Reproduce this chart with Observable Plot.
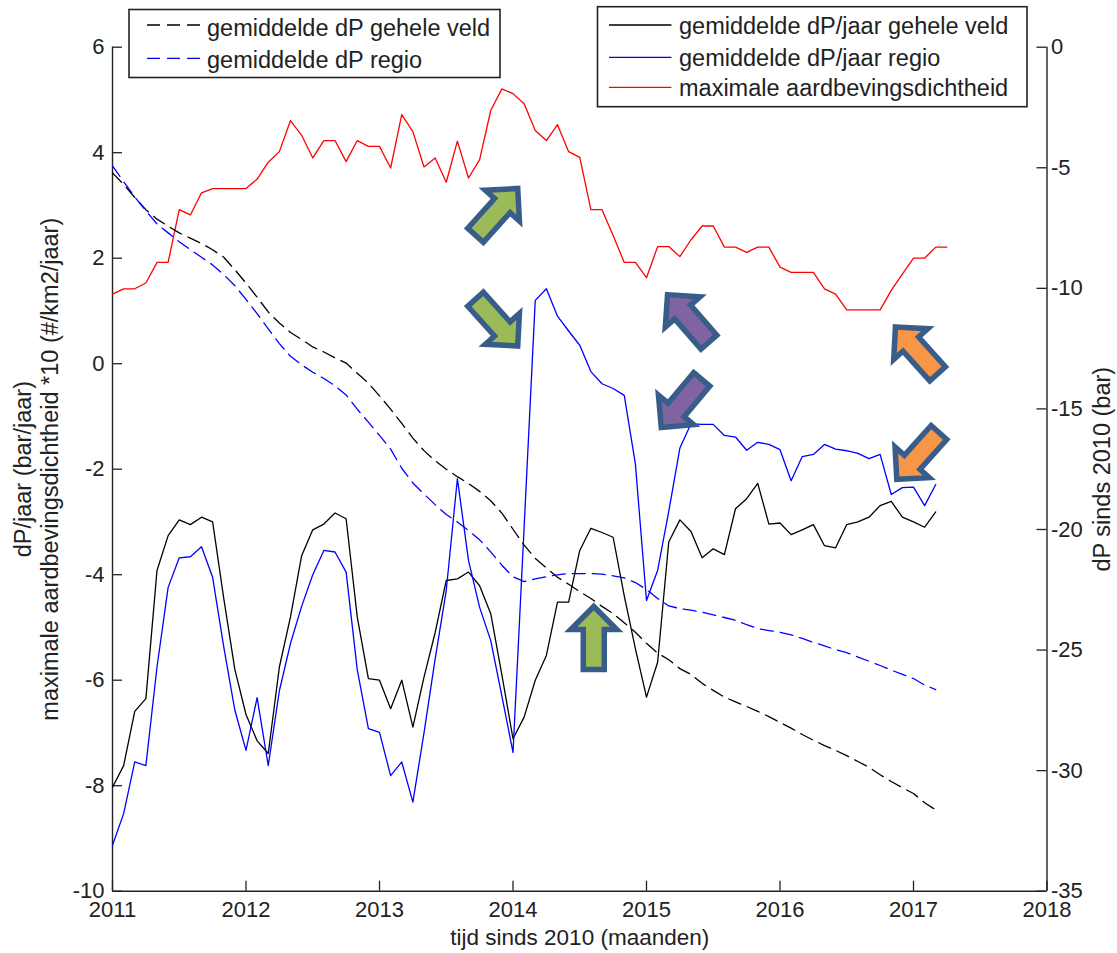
<!DOCTYPE html>
<html>
<head>
<meta charset="utf-8">
<script src="https://cdn.jsdelivr.net/npm/d3@7"></script>
<script src="https://cdn.jsdelivr.net/npm/@observablehq/plot@0.6"></script>
<style>
  html, body { margin: 0; padding: 0; background: #ffffff; }
  #chart { width: 1117px; height: 953px; }
  svg { font-family: "Liberation Sans", Arial, sans-serif; }
</style>
</head>
<body>
<div id="chart"></div>
<script>
// ---------------- data (monthly, starting January 2011) ----------------
const startYear = 2011;

// gemiddelde dP/jaar gehele veld (left axis, bar/jaar)
const fieldRate = [
  -8.03, -7.62, -6.59, -6.35, -3.92, -3.26, -2.96, -3.05, -2.91, -3.00,
  -4.45, -5.80, -6.65, -7.15, -7.39, -5.75, -4.80, -3.64, -3.15, -3.04,
  -2.83, -2.94, -4.80, -5.97, -6.00, -6.54, -6.00, -6.89, -5.94, -5.10,
  -4.11, -4.08, -3.95, -4.21, -4.74, -5.90, -7.11, -6.70, -6.00, -5.53,
  -4.52, -4.52, -3.54, -3.12, -3.20, -3.29, -4.40, -5.40, -6.32, -5.66,
  -3.38, -2.96, -3.18, -3.68, -3.51, -3.62, -2.75, -2.56, -2.27, -3.04,
  -3.02, -3.24, -3.15, -3.05, -3.45, -3.49, -3.05, -3.00, -2.91, -2.69,
  -2.61, -2.91, -3.00, -3.10, -2.81
];

// gemiddelde dP/jaar regio (left axis, bar/jaar)
const regionRate = [
  -9.13, -8.53, -7.55, -7.62, -5.75, -4.24, -3.68, -3.66, -3.47, -4.05,
  -5.37, -6.57, -7.33, -6.33, -7.62, -6.20, -5.30, -4.60, -4.00, -3.54,
  -3.57, -3.95, -5.80, -6.92, -6.99, -7.81, -7.55, -8.31, -7.00, -5.60,
  -4.30, -2.18, -3.73, -4.62, -5.25, -6.30, -7.37, -3.10,  1.20,  1.42,
   0.90,  0.62,  0.35, -0.15, -0.38, -0.47, -0.60, -1.90, -4.49, -3.92,
  -2.80, -1.60, -1.14, -1.15, -1.15, -1.36, -1.39, -1.64, -1.49, -1.53,
  -1.63, -2.22, -1.76, -1.72, -1.53, -1.62, -1.65, -1.70, -1.80, -1.72,
  -2.48, -2.35, -2.34, -2.69, -2.29
];

// maximale aardbevingsdichtheid *10 (left axis)
const quakeDensity = [
  1.32, 1.42, 1.42, 1.53, 1.92, 1.92, 2.92, 2.82, 3.24, 3.32,
  3.32, 3.32, 3.32, 3.50, 3.82, 4.02, 4.61, 4.33, 3.90, 4.23,
  4.23, 3.83, 4.23, 4.12, 4.12, 3.71, 4.72, 4.40, 3.73, 3.90,
  3.44, 4.22, 3.52, 3.87, 4.80, 5.21, 5.12, 4.93, 4.42, 4.23,
  4.53, 4.02, 3.91, 2.92, 2.92, 2.43, 1.92, 1.92, 1.63, 2.22,
  2.22, 2.03, 2.35, 2.61, 2.61, 2.21, 2.21, 2.11, 2.21, 2.21,
  1.83, 1.73, 1.73, 1.73, 1.42, 1.32, 1.02, 1.02, 1.02, 1.02,
  1.39, 1.70, 2.00, 2.00, 2.21, 2.21
];

// gemiddelde dP gehele veld (right axis, bar since 2010)
const fieldCum = [
  -5.21, -5.69, -6.23, -6.74, -7.13, -7.42, -7.70, -7.92, -8.14, -8.40,
  -8.71, -9.23, -9.78, -10.37, -10.98, -11.44, -11.83, -12.12, -12.43, -12.64,
  -12.88, -13.10, -13.52, -13.93, -14.46, -15.01, -15.60, -16.21, -16.73, -17.15,
  -17.50, -17.81, -18.09, -18.42, -18.81, -19.32, -19.99, -20.65, -21.20, -21.59,
  -21.98, -22.27, -22.58, -22.86, -23.19, -23.49, -23.87, -24.26, -24.72, -25.13,
  -25.40, -25.77, -26.01, -26.38, -26.67, -26.95, -27.15, -27.34, -27.54, -27.76,
  -28.00, -28.24, -28.50, -28.74, -28.96, -29.16, -29.38, -29.62, -29.86, -30.17,
  -30.45, -30.71, -30.95, -31.33, -31.63
];

// gemiddelde dP regio (right axis, bar since 2010)
const regionCum = [
  -4.92, -5.58, -6.21, -6.78, -7.33, -7.70, -8.07, -8.40, -8.71, -9.03,
  -9.43, -9.89, -10.46, -11.05, -11.68, -12.29, -12.82, -13.17, -13.48, -13.74,
  -14.04, -14.42, -15.01, -15.55, -16.10, -16.67, -17.46, -18.07, -18.53, -18.97,
  -19.38, -19.69, -20.04, -20.43, -20.93, -21.48, -21.96, -22.16, -22.05, -21.96,
  -21.88, -21.83, -21.83, -21.83, -21.85, -21.92, -22.01, -22.20, -22.49, -22.86,
  -23.17, -23.28, -23.34, -23.43, -23.54, -23.65, -23.76, -23.95, -24.11, -24.19,
  -24.26, -24.37, -24.52, -24.68, -24.83, -24.98, -25.11, -25.29, -25.46, -25.64,
  -25.83, -26.01, -26.18, -26.45, -26.64
];

// axes
const yearTicks = [2011, 2012, 2013, 2014, 2015, 2016, 2017, 2018];
const leftTicks = [-10, -8, -6, -4, -2, 0, 2, 4, 6];
const rightTicks = [0, -5, -10, -15, -20, -25, -30, -35];
const leftDomain = [-10, 6];
const rightDomain = [-35, 0];

// annotation arrows (position in years / left-axis units, direction in degrees clockwise from up)
const arrowYear  = [2013.88, 2013.88, 2014.605, 2015.31, 2015.26, 2017.02, 2017.03];
const arrowValue = [2.885, 0.772, -5.19, 0.866, -0.76, 0.26, -1.756];
const arrowAngle = [42, 138, 0, 319, 220, 318, 222];
const arrowFill  = ["#9bbb59", "#9bbb59", "#9bbb59", "#8064a2", "#8064a2", "#f79646", "#f79646"];

// legends
const dashedLabels = ["gemiddelde dP gehele veld", "gemiddelde dP regio"];
const dashedColors = ["#000000", "#0000ff"];
const solidLabels = ["gemiddelde dP/jaar gehele veld", "gemiddelde dP/jaar regio", "maximale aardbevingsdichtheid"];
const solidColors = ["#000000", "#0000ff", "#ff0000"];

const xLabel = "tijd sinds 2010 (maanden)";
const yLabel1 = "dP/jaar (bar/jaar)";
const yLabel2 = "maximale aardbevingsdichtheid *10 (#/km2/jaar)";
const y2Label = "dP sinds 2010 (bar)";

// ---------------- helpers ----------------
const monthX = i => startYear + i / 12;
// map right-axis values onto the left-axis scale
const toLeft = r => leftDomain[0] + (r - rightDomain[0]) * (leftDomain[1] - leftDomain[0]) / (rightDomain[1] - rightDomain[0]);
const toRight = v => rightDomain[0] + (v - leftDomain[0]) * (rightDomain[1] - rightDomain[0]) / (leftDomain[1] - leftDomain[0]);

const series = arr => arr.map((v, i) => ({t: monthX(i), v}));
const seriesRight = arr => arr.map((v, i) => ({t: monthX(i), v: toLeft(v)}));

function arrowSymbol(angle) {
  const a = angle * Math.PI / 180, c = Math.cos(a), s = Math.sin(a);
  const pts = [[0, -31], [23, -8], [10.5, -8], [10.5, 32], [-10.5, 32], [-10.5, -8], [-23, -8]];
  return {
    draw(ctx) {
      pts.forEach(([x, y], k) => {
        const X = x * c - y * s, Y = x * s + y * c;
        if (k === 0) ctx.moveTo(X, Y); else ctx.lineTo(X, Y);
      });
      ctx.closePath();
    }
  };
}

const W = 1117, H = 953;
const mLeft = 112, mRight = 70.5, mTop = 46.7, mBottom = 62.3;
const pxPerYear = (W - mLeft - mRight) / 7;
const pxPerUnit = (H - mTop - mBottom) / 16;
const tickLen = 10;
const axisColor = "#222222";

const arrows = arrowYear.map((y, i) => ({year: y, value: arrowValue[i], angle: arrowAngle[i], fill: arrowFill[i]}));

const plot = Plot.plot({
  width: W,
  height: H,
  marginLeft: mLeft,
  marginRight: mRight,
  marginTop: mTop,
  marginBottom: mBottom,
  x: {domain: [2011, 2018], axis: null},
  y: {domain: leftDomain, axis: null},
  style: {background: "#ffffff", color: axisColor, fontFamily: "'Liberation Sans', Arial, sans-serif", fontSize: "22px", overflow: "visible"},
  marks: [
    // tick labels
    Plot.axisX(yearTicks, {anchor: "bottom", tickSize: 0, tickPadding: 10, tickFormat: d => String(d), label: null, fontSize: 22}),
    Plot.axisY(leftTicks, {anchor: "left", tickSize: 0, tickPadding: 8, tickFormat: d => String(d), label: null, fontSize: 22}),
    Plot.axisY(rightTicks.map(toLeft), {anchor: "right", tickSize: 0, tickPadding: 4, tickFormat: d => String(Math.round(toRight(d))), label: null, fontSize: 22}),
    // inward ticks
    Plot.ruleX(yearTicks, {x: d => d, y1: leftDomain[0], y2: leftDomain[0] + tickLen / pxPerUnit, stroke: axisColor, strokeWidth: 1.3}),
    Plot.ruleY(leftTicks, {y: d => d, x1: 2011, x2: 2011 + tickLen / pxPerYear, stroke: axisColor, strokeWidth: 1.3}),
    Plot.ruleY(rightTicks, {y: d => toLeft(d), x1: 2018 - tickLen / pxPerYear, x2: 2018, stroke: axisColor, strokeWidth: 1.3}),
    // axis lines (no top border)
    Plot.ruleX([2011, 2018], {y1: leftDomain[0], y2: leftDomain[1], stroke: axisColor, strokeWidth: 1.4}),
    Plot.ruleY([leftDomain[0]], {x1: 2011, x2: 2018, stroke: axisColor, strokeWidth: 1.4}),
    // axis titles
    Plot.text([xLabel], {frameAnchor: "bottom", dy: 54, textAnchor: "middle", fontSize: 22.5, fill: axisColor}),
    Plot.text([yLabel1], {frameAnchor: "left", rotate: -90, dx: -89, textAnchor: "middle", fontSize: 23.5, fill: axisColor}),
    Plot.text([yLabel2], {frameAnchor: "left", rotate: -90, dx: -62, textAnchor: "middle", fontSize: 23.5, fill: axisColor}),
    Plot.text([y2Label], {frameAnchor: "right", rotate: -90, dx: 55, textAnchor: "middle", fontSize: 23.5, fill: axisColor}),
    // left-axis series
    Plot.line(series(fieldRate), {x: "t", y: "v", stroke: solidColors[0], strokeWidth: 1.3}),
    Plot.line(series(regionRate), {x: "t", y: "v", stroke: solidColors[1], strokeWidth: 1.3}),
    Plot.line(series(quakeDensity), {x: "t", y: "v", stroke: solidColors[2], strokeWidth: 1.3}),
    // right-axis series
    Plot.line(seriesRight(fieldCum), {x: "t", y: "v", stroke: dashedColors[0], strokeWidth: 1.3, strokeDasharray: "13,7"}),
    Plot.line(seriesRight(regionCum), {x: "t", y: "v", stroke: dashedColors[1], strokeWidth: 1.3, strokeDasharray: "13,7"}),
    // annotation arrows
    ...arrows.map(d => Plot.dot([d], {
      x: "year", y: "value", r: 30,
      symbol: arrowSymbol(d.angle),
      fill: d.fill, stroke: "#385d8a", strokeWidth: 5.5, strokeLinejoin: "miter"
    }))
  ]
});

document.getElementById("chart").appendChild(plot);

// ---------------- legends ----------------
const svg = d3.select(plot);
function legend(box, labels, colors, dashed) {
  const g = svg.append("g").attr("text-anchor", "start");
  g.append("rect")
    .attr("x", box.x).attr("y", box.y).attr("width", box.w).attr("height", box.h)
    .attr("fill", "#ffffff").attr("stroke", axisColor).attr("stroke-width", 1.6);
  labels.forEach((lab, i) => {
    const ly = box.lineY[i];
    g.append("line")
      .attr("x1", box.lx1).attr("x2", box.lx2).attr("y1", ly).attr("y2", ly)
      .attr("stroke", colors[i]).attr("stroke-width", 1.3)
      .attr("stroke-dasharray", dashed ? "13,7" : null);
    g.append("text")
      .attr("x", box.tx).attr("y", box.textY[i])
      .attr("text-anchor", "start")
      .attr("font-size", 23.5).attr("fill", axisColor)
      .text(lab);
  });
}
legend({x: 129, y: 9.5, w: 371, h: 68, lx1: 147, lx2: 202, tx: 207, lineY: [25, 58.3], textY: [35.5, 67.5]},
  dashedLabels, dashedColors, true);
legend({x: 597.5, y: 6.7, w: 429.5, h: 100, lx1: 609, lx2: 671.4, tx: 679, lineY: [25, 57.3, 87.3], textY: [34, 66, 96]},
  solidLabels, solidColors, false);
</script>
</body>
</html>
